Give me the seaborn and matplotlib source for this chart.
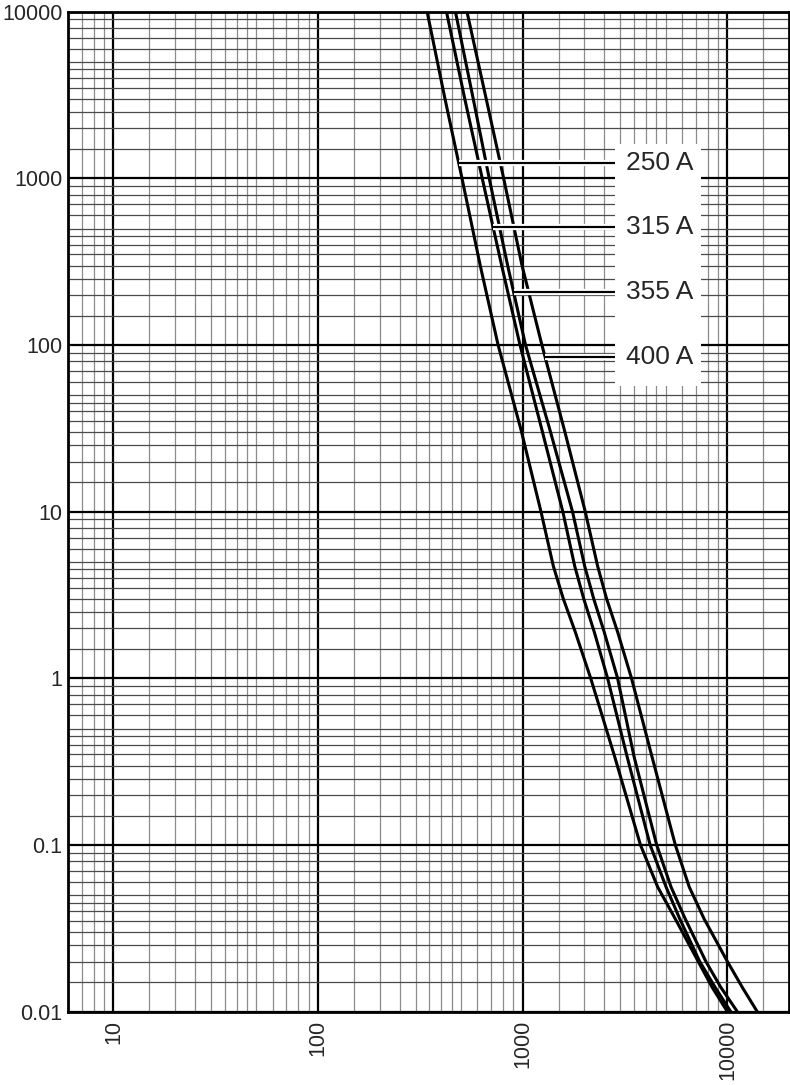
import numpy as np
import pandas as pd
import seaborn as sns
import matplotlib
matplotlib.use("Agg")
import matplotlib.pyplot as plt
from matplotlib.patches import Rectangle
from matplotlib.ticker import FixedLocator, NullFormatter
import matplotlib.patheffects as pe

# time (s) levels
times = [10000, 3000, 1000, 300, 100, 31, 10, 4.7, 3, 1.9, 1, 0.34, 0.1, 0.056, 0.036, 0.02, 0.014, 0.01]

# prospective current (A) of each fuse curve at those times
i_250 = [341, 417, 505, 620, 758, 981, 1228, 1412, 1579, 1806, 2149, 2812, 3762, 4565, 5568, 7203, 8424, 10000]
i_315 = [424, 521, 634, 789, 970, 1241, 1570, 1796, 1987, 2236, 2599, 3234, 4194, 5017, 5856, 7325, 8713, 10388]
i_355 = [469, 573, 686, 844, 1032, 1358, 1751, 2009, 2223, 2500, 2908, 3498, 4515, 5305, 6228, 7851, 9288, 11185]
i_400 = [534, 663, 807, 992, 1241, 1597, 2021, 2324, 2570, 2908, 3401, 4278, 5568, 6512, 7701, 10000, 11828, 13993]

ratings = ["250 A", "315 A", "355 A", "400 A"]
x_ticks = [10, 100, 1000, 10000]
y_ticks = [0.01, 0.1, 1, 10, 100, 1000, 10000]
y_labels = ["0.01", "0.1", "1", "10", "100", "1000", "10000"]
grid_steps = [1.5, 2, 2.5, 3, 3.5, 4, 4.5, 5, 6, 7, 8, 9]

# where the label leaders sit (time, s)
label_t = [1230, 508, 207, 85]

rows = []
for name, cur in zip(ratings, [i_250, i_315, i_355, i_400]):
    for t, c in zip(times, cur):
        rows.append({"rating": name, "current": c, "time": t})
df = pd.DataFrame(rows)

sns.set_style("white")
plt.rcParams["font.family"] = ["Liberation Sans", "DejaVu Sans"]

fig = plt.figure(figsize=(7.9, 10.85), dpi=100)
ax = fig.add_axes([68 / 790, 1 - 1011.7 / 1085, (789 - 68) / 790, 1000 / 1085])

sns.lineplot(data=df, x="current", y="time", hue="rating", palette=["black"] * 4,
             sort=False, estimator=None, legend=False, linewidth=2.2, ax=ax)
for ln in ax.lines:
    ln.set_solid_joinstyle("round")

ax.set_xscale("log")
ax.set_yscale("log")
ax.set_xlim(6, 20000)
ax.set_ylim(0.01, 10000)

ax.xaxis.set_major_locator(FixedLocator(x_ticks))
ax.set_xticklabels([str(v) for v in x_ticks], rotation=90, fontsize=15.5)
ax.yaxis.set_major_locator(FixedLocator(y_ticks))
ax.set_yticklabels(y_labels, fontsize=15.5)

x_minor = [d * s for d in [1, 10, 100, 1000, 10000] for s in grid_steps]
y_minor = [d * s for d in [0.01, 0.1, 1, 10, 100, 1000] for s in grid_steps]
ax.xaxis.set_minor_locator(FixedLocator(x_minor))
ax.yaxis.set_minor_locator(FixedLocator(y_minor))
ax.xaxis.set_minor_formatter(NullFormatter())
ax.yaxis.set_minor_formatter(NullFormatter())

ax.set_axisbelow(True)
ax.grid(which="major", color="black", linewidth=1.6)
ax.grid(which="minor", axis="y", color="#4a4a4a", linewidth=0.9)
ax.grid(which="minor", axis="x", color="#8c8c8c", linewidth=0.9)
ax.tick_params(which="both", length=0)
ax.tick_params(axis="x", pad=6)
ax.tick_params(axis="y", pad=4)
ax.set_xlabel("")
ax.set_ylabel("")
for sp in ax.spines.values():
    sp.set_visible(True)
    sp.set_color("black")
    sp.set_linewidth(2)

# white label box
box_x0, box_x1 = 2812, 7447
box_t0, box_t1 = 56.5, 1597
ax.add_patch(Rectangle((box_x0, box_t0), box_x1 - box_x0, box_t1 - box_t0,
                       facecolor="white", edgecolor="none", zorder=1.5))

lt = np.log10(times[::-1])
for name, cur, t in zip(ratings, [i_250, i_315, i_355, i_400], label_t):
    x0 = 10 ** np.interp(np.log10(t), lt, np.log10(cur[::-1]))
    ax.plot([x0, box_x0], [t, t], color="black", linewidth=1.5, zorder=3,
            solid_capstyle="butt",
            path_effects=[pe.withStroke(linewidth=4.5, foreground="white"), pe.Normal()])
    ax.text(3200, t, name, fontsize=19, va="center", ha="left", zorder=4)

fig.savefig("out.png", dpi=100)
